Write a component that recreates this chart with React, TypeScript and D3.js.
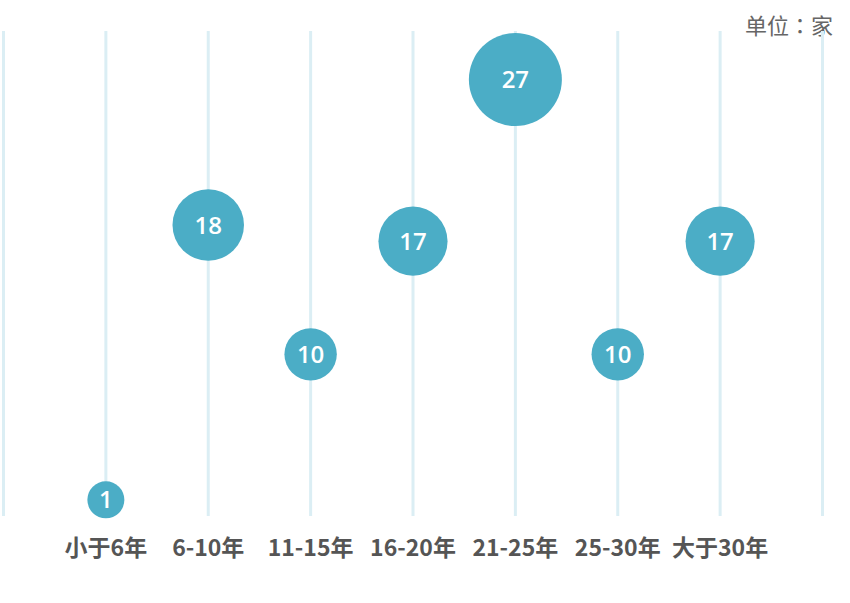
import React from "react";
import * as d3 from "d3";

const categories = ["小于6年", "6-10年", "11-15年", "16-20年", "21-25年", "25-30年", "大于30年"];
const values = [1, 18, 10, 17, 27, 10, 17];
const yDomainMax = 30;
const unitLabel = "单位：家";

const W = 850;
const H = 603;

export default function App() {
  const x = d3.scalePoint<string>().domain(categories).range([3.5, 822.5]).padding(1);
  const step = x.step();
  const y = d3.scaleLinear().domain([0, yDomainMax]).range([516, 31]);
  const [vmin, vmax] = d3.extent(values) as [number, number];
  const r = d3.scaleLinear().domain([vmin, 10, vmax]).range([18.5, 26.2, 46.5]);
  const gridX = [x(categories[0])! - step, ...categories.map((c) => x(c)!), x(categories[categories.length - 1])! + step];

  return (
    <svg width={W} height={H} style={{ position: "absolute", left: 0, top: 0, background: "#fff" }}>
      <text x={833} y={34} textAnchor="end" fontSize={22} fill="#666" fontFamily="'Noto Sans CJK TC', sans-serif">
        {unitLabel}
      </text>
      {gridX.map((gx, i) => (
        <line key={i} x1={gx} x2={gx} y1={y(yDomainMax)} y2={y(0)} stroke="#dbeef4" strokeWidth={3} />
      ))}
      {categories.map((c, i) => (
        <g key={c}>
          <circle cx={x(c)} cy={y(values[i])} r={r(values[i])} fill="#4badc6" />
          <text
            x={x(c)}
            y={y(values[i])}
            dy="0.36em"
            textAnchor="middle"
            fontSize={24}
            fontWeight={600}
            fill="#fff"
            fontFamily="'Open Sans', 'Noto Sans', sans-serif"
          >
            {values[i]}
          </text>
          <text
            x={x(c)}
            y={556}
            textAnchor="middle"
            fontSize={23}
            fontWeight="bold"
            fill="#555"
            fontFamily="'Noto Sans CJK SC', sans-serif"
          >
            {c}
          </text>
        </g>
      ))}
    </svg>
  );
}
